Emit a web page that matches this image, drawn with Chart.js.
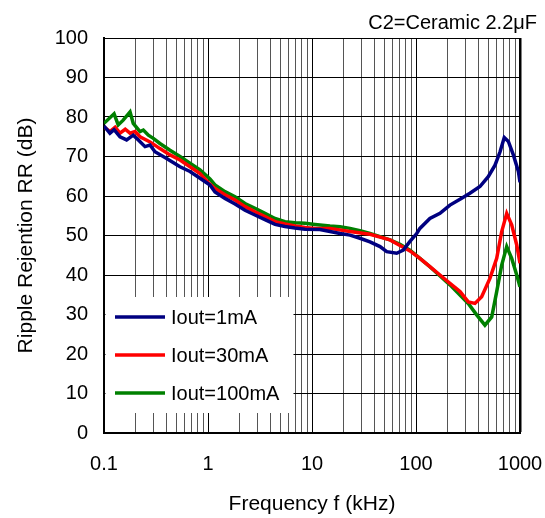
<!DOCTYPE html>
<html>
<head>
<meta charset="utf-8">
<script src="https://cdn.jsdelivr.net/npm/chart.js@4.4.1/dist/chart.umd.min.js"></script>
<style>
  html, body { margin: 0; padding: 0; background: #fff; }
  #wrap { width: 545px; height: 518px; }
</style>
</head>
<body>
<div id="wrap"><canvas id="c" width="545" height="518"></canvas></div>
<script>
// ---- Data (frequency in kHz, ripple rejection in dB) ----
const freq1mA = [0.1, 0.114, 0.125, 0.1425, 0.165, 0.191, 0.214, 0.248, 0.277, 0.309, 0.40, 0.538, 0.671, 0.838, 1.045,
  1.167, 1.456, 1.82, 2.27, 2.83, 3.53, 4.41, 5.5, 6.86, 8.57, 11.9, 14.9, 18.6, 23.2, 28.9, 36.1, 45.1, 52.3, 65.2, 75.5,
  87.5, 101.6, 109, 136, 170, 212, 265, 330, 412, 495, 575, 643, 706, 773, 863, 965, 1000];
const rr1mA = [77.7, 75.9, 76.8, 75.0, 74.2, 75.4, 74.2, 72.5, 72.9, 71.2, 69.5, 67.4, 66.2, 64.5, 62.8,
  61.0, 59.4, 58.0, 56.4, 55.2, 54.0, 52.8, 52.3, 51.9, 51.6, 51.5, 51.0, 50.5, 50.1, 49.3, 48.4, 47.2, 45.9, 45.5, 46.3,
  48.5, 50.5, 51.8, 54.3, 55.6, 57.7, 59.2, 60.7, 62.4, 64.9, 67.8, 71.2, 74.8, 73.8, 70.4, 66.2, 63.5];

const freq30mA = [0.1, 0.114, 0.128, 0.1425, 0.16, 0.178, 0.199, 0.222, 0.277, 0.345, 0.431, 0.538, 0.671, 0.838, 1.0,
  1.167, 1.456, 1.82, 2.27, 2.83, 3.53, 4.41, 5.5, 6.86, 8.57, 10.7, 14.9, 23.2, 36.1, 56.2, 87.5, 109, 136, 170, 212,
  265, 318, 369, 428, 515, 597, 667, 745, 832, 930, 1000];
const rr30mA = [77.5, 76.3, 77.4, 75.9, 76.9, 75.9, 76.3, 75.0, 73.7, 72.0, 70.4, 69.1, 67.4, 65.7, 63.5,
  61.9, 60.3, 59.0, 57.3, 56.0, 54.8, 53.5, 52.9, 52.4, 52.0, 51.8, 51.8, 51.0, 50.3, 48.9, 46.1, 44.2, 42.1, 40.0, 37.9,
  35.8, 33.2, 32.8, 34.5, 39.2, 44.2, 51.0, 55.6, 52.7, 47.6, 43.0];

const freq100mA = [0.1, 0.125, 0.137, 0.153, 0.178, 0.191, 0.222, 0.239, 0.267, 0.298, 0.345, 0.431, 0.538, 0.671, 0.838, 1.045,
  1.167, 1.456, 1.82, 2.27, 2.83, 3.53, 4.41, 5.5, 6.86, 8.57, 10.7, 14.9, 18.6, 23.2, 28.9, 36.1, 45.1, 56.2, 70.2,
  87.5, 109, 136, 212, 318, 383, 460, 535, 597, 667, 745, 832, 930, 1000];
const rr100mA = [78.4, 80.8, 78.0, 79.2, 81.3, 78.4, 76.3, 76.7, 75.4, 74.6, 73.3, 71.6, 70.0, 68.3, 66.6, 64.3,
  62.8, 61.1, 59.8, 58.1, 56.9, 55.6, 54.3, 53.5, 53.2, 53.1, 52.8, 52.4, 52.2, 51.8, 51.2, 50.5, 49.7, 48.9, 47.8,
  46.3, 44.2, 42.1, 37.5, 32.8, 29.9, 27.3, 29.4, 35.8, 42.5, 47.2, 44.2, 40.0, 37.0];

const seriesLabels = ['Iout=1mA', 'Iout=30mA', 'Iout=100mA'];
const seriesColors = ['#000080', '#ff0000', '#008000'];
const xMajorTicks = [0.1, 1, 10, 100, 1000];
const yTicks = [0, 10, 20, 30, 40, 50, 60, 70, 80, 90, 100];
const titleText = 'C2=Ceramic 2.2\u03bcF';
const xTitle = 'Frequency f (kHz)';
const yTitle = 'Ripple Rejention RR (dB)';

const FONT = '"Liberation Sans", Arial, Helvetica, sans-serif';

function pts(xs, ys) { return xs.map((x, i) => ({ x: x, y: ys[i] })); }

const legendBox = {
  id: 'legendBox',
  beforeDatasetsDraw(chart) {
    const { ctx, chartArea: ca } = chart;
    ctx.save();
    ctx.fillStyle = '#ffffff';
    ctx.fillRect(ca.left + 1.5, ca.bottom - 136, 188, 116);
    chart.data.datasets.forEach((ds, i) => {
      const y = ca.bottom - 116 + i * 38;
      ctx.strokeStyle = ds.borderColor;
      ctx.lineWidth = 3.5;
      ctx.lineCap = 'butt';
      ctx.beginPath();
      ctx.moveTo(ca.left + 11, y);
      ctx.lineTo(ca.left + 61, y);
      ctx.stroke();
      ctx.fillStyle = '#000';
      ctx.font = '20px ' + FONT;
      ctx.textBaseline = 'middle';
      ctx.textAlign = 'left';
      ctx.fillText(ds.label, ca.left + 67, y + 1);
    });
    ctx.restore();
  }
};

const datasets = [
  pts(freq1mA, rr1mA), pts(freq30mA, rr30mA), pts(freq100mA, rr100mA)
].map((d, i) => ({
  label: seriesLabels[i],
  data: d,
  borderColor: seriesColors[i],
  backgroundColor: seriesColors[i],
  borderWidth: 3.5,
  pointRadius: 0,
  showLine: true,
  tension: 0,
  fill: false
}));

new Chart(document.getElementById('c'), {
  type: 'scatter',
  data: { datasets: datasets },
  plugins: [legendBox],
  options: {
    responsive: false,
    animation: false,
    events: [],
    layout: { padding: { top: 0, right: 8, bottom: 0, left: 0 } },
    plugins: {
      legend: { display: false },
      tooltip: { enabled: false },
      title: {
        display: true,
        text: titleText,
        align: 'end',
        color: '#000',
        font: { family: FONT, size: 20, weight: 'normal', lineHeight: 1.2 },
        padding: { top: 11, bottom: 3 }
      }
    },
    scales: {
      x: {
        type: 'logarithmic',
        min: 0.1,
        max: 1000,
        afterBuildTicks(scale) {
          const t = [];
          for (let k = 0; k < xMajorTicks.length; k++) {
            const base = xMajorTicks[k];
            t.push({ value: base, major: true });
            if (k < xMajorTicks.length - 1) {
              for (let m = 2; m <= 9; m++) t.push({ value: +(base * m).toPrecision(6), major: false });
            }
          }
          scale.ticks = t;
        },
        afterFit(scale) {
          scale.height = 85;
          scale.paddingRight = 25;
        },
        ticks: {
          autoSkip: false,
          maxRotation: 0,
          minRotation: 0,
          padding: 19,
          color: '#000',
          font: { family: FONT, size: 20 },
          callback(value) { return xMajorTicks.includes(value) ? String(value) : ''; }
        },
        grid: {
          drawTicks: false,
          color(ctx) { return ctx.tick && ctx.tick.major ? '#000' : '#555'; },
          lineWidth(ctx) { return ctx.tick && ctx.tick.value === 1000 ? 2.5 : 1; }
        },
        border: { display: true, color: '#000', width: 2 },
        title: {
          display: true,
          text: xTitle,
          color: '#000',
          font: { family: FONT, size: 21, lineHeight: 1.2 },
          padding: { top: 0, bottom: 1 }
        }
      },
      y: {
        type: 'linear',
        min: 0,
        max: 100,
        afterBuildTicks(scale) {
          scale.ticks = yTicks.map(v => ({ value: v }));
        },
        afterFit(scale) { scale.width = 104; },
        ticks: {
          padding: 16,
          color: '#000',
          font: { family: FONT, size: 20 }
        },
        grid: {
          drawTicks: false,
          color: '#000',
          lineWidth: 1
        },
        border: { display: true, color: '#000', width: 2 },
        title: {
          display: true,
          text: yTitle,
          color: '#000',
          font: { family: FONT, size: 21, lineHeight: 1.2 },
          padding: { top: 14, bottom: 0 }
        }
      }
    }
  }
});
</script>
</body>
</html>
